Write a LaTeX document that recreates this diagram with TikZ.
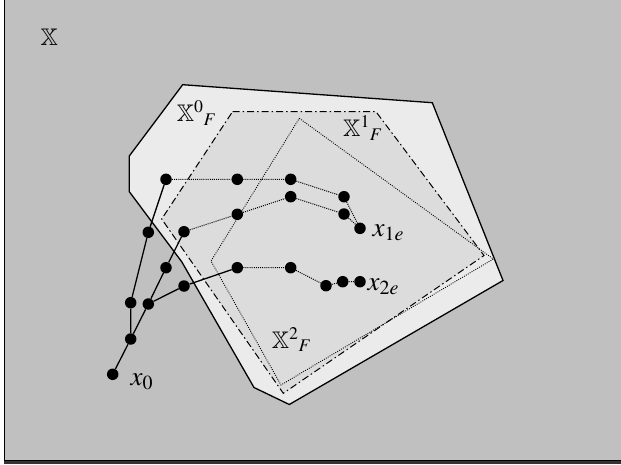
\documentclass[tikz,border=0pt]{standalone}
\usepackage{mathptmx}
\usepackage{amssymb}
\definecolor{bggray}{HTML}{C0C0C0}
\definecolor{outerfill}{HTML}{EBEBEB}
\definecolor{innerfill}{HTML}{DCDCDC}
\tikzset{
  dot/.style={circle, fill=black, inner sep=0pt, minimum size=11.5pt},
  solidlink/.style={line width=1.3pt},
  dotlink/.style={line width=1pt, dash pattern=on 1pt off 1.1pt},
  outerpoly/.style={fill=outerfill, draw=black, line width=1.3pt, line join=miter},
  dashdotpoly/.style={fill=innerfill, draw=black, line width=1pt, dash pattern=on 7pt off 3pt on 1.5pt off 3pt},
  dottedpoly/.style={draw=black, line width=0.9pt, dash pattern=on 0.9pt off 1.3pt},
  lbl/.style={anchor=base west, inner sep=0pt, font=\fontsize{24}{28}\selectfont},
  xlbl/.style={anchor=base west, inner sep=0pt, font=\fontsize{27}{30}\selectfont}
}
\begin{document}
\begin{tikzpicture}[x=1pt,y=-1pt]
\useasboundingbox (0,0) rectangle (621,464);
\fill[white] (0,0) rectangle (621,464);
\fill[bggray] (4.7,0) rectangle (621,460);
\draw[line width=1.4pt] (4.7,0) -- (4.7,460.5) -- (621,460.5);
\fill[black!80] (4,461) rectangle (621,464);

% regions
\path[outerpoly] (182.7,84.7) -- (432.3,102.7) -- (503,280.5) -- (289.3,404.5) -- (254,387.5) -- (181.7,261.7) -- (129.3,191.7) -- (129.3,156) -- cycle;
\path[dashdotpoly] (232.5,111.7) -- (376,111.7) -- (484,255.5) -- (283.3,393.3) -- (161.7,219) -- cycle;
\path[dottedpoly] (299.3,118.3) -- (493.3,259) -- (281,385) -- (211,261) -- cycle;

% dots
\node[dot] (x0) at (112.7,374.3) {};
\node[dot] (d) at (130.7,339) {};
\node[dot] (e) at (130.7,302.7) {};
\node[dot] (f) at (148.3,232.3) {};
\node[dot] (g) at (148.3,304) {};
\node[dot] (h) at (166,267.7) {};
\node[dot] (i) at (184,286) {};
\node[dot] (a1) at (166,179.3) {};
\node[dot] (a2) at (237.3,179.3) {};
\node[dot] (a3) at (290.7,179.3) {};
\node[dot] (a4) at (344,196.7) {};
\node[dot] (b3) at (184,231.7) {};
\node[dot] (b2) at (237.3,214.3) {};
\node[dot] (b1) at (290.7,196.7) {};
\node[dot] (b4) at (344,214) {};
\node[dot] (x1e) at (360,228.3) {};
\node[dot] (c1) at (237.3,267.7) {};
\node[dot] (c2) at (290.7,267.7) {};
\node[dot] (c3) at (326,285.7) {};
\node[dot] (c4) at (342.7,281.7) {};
\node[dot] (c5) at (360,281.7) {};

% solid links
\draw[solidlink] (x0) -- (d) -- (e) -- (f) -- (a1);
\draw[solidlink] (d) -- (g) -- (h) -- (b3);
\draw[solidlink] (g) -- (i) -- (c1);

% dotted links
\draw[dotlink] (a1) -- (a2) -- (a3) -- (a4) -- (x1e);
\draw[dotlink] (b3) -- (b2) -- (b1) -- (b4) -- (x1e);
\draw[dotlink] (c1) -- (c2) -- (c3) -- (c4) -- (c5);

% labels
\node[lbl] (lX) at (40.5,45) {$\mathbb{X}$};
\node[lbl] (lX0) at (176.7,121.7) {$\mathbb{X}^{0}{}_{F}$};
\node[lbl] (lX1) at (343,136.7) {$\mathbb{X}^{1}{}_{F}$};
\node[lbl] (lX2) at (271.7,348.3) {$\mathbb{X}^{2}{}_{F}$};
\node[xlbl] (lx0) at (130.5,385) {$x_{0}$};
\node[xlbl] (lx1e) at (372.5,236) {$x_{1e}$};
\node[xlbl] (lx2e) at (367.5,290) {$x_{2e}$};
\end{tikzpicture}
\end{document}
